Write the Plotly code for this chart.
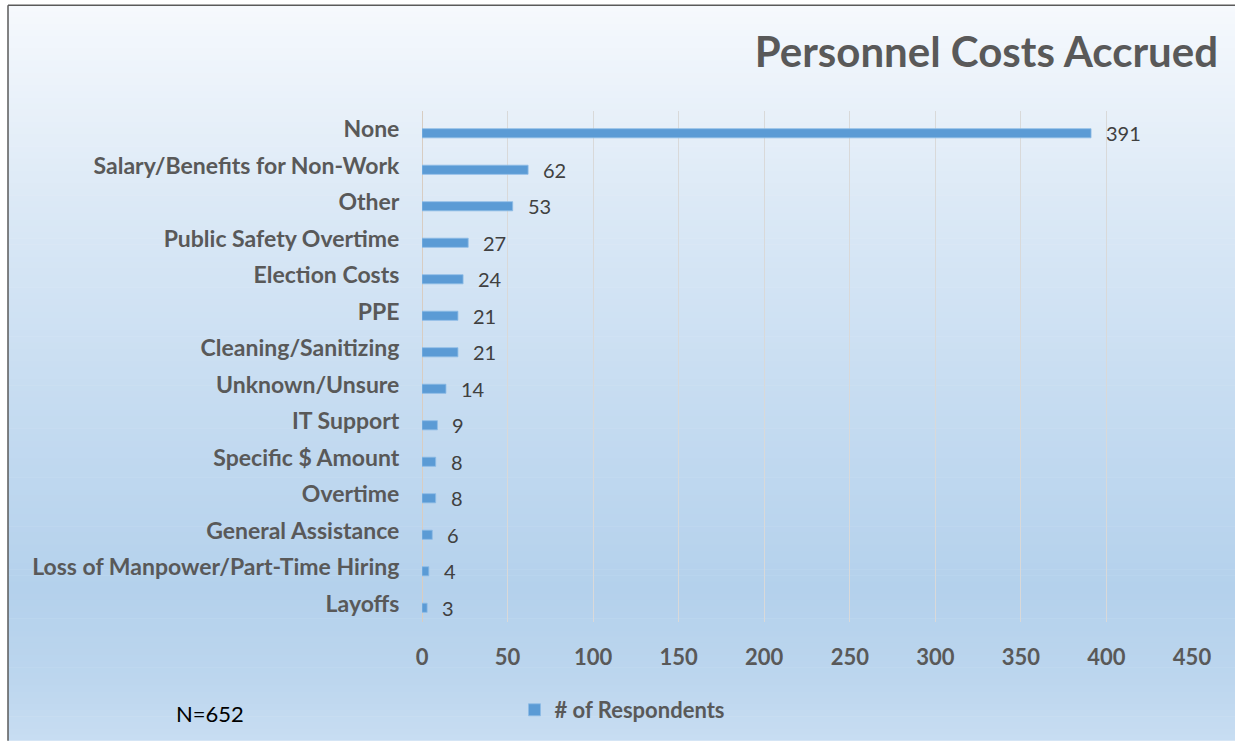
import plotly.graph_objects as go

categories = ["None", "Salary/Benefits for Non-Work", "Other", "Public Safety Overtime",
              "Election Costs", "PPE", "Cleaning/Sanitizing", "Unknown/Unsure", "IT Support",
              "Specific $ Amount", "Overtime", "General Assistance",
              "Loss of Manpower/Part-Time Hiring", "Layoffs"]
respondents = [391, 62, 53, 27, 24, 21, 21, 14, 9, 8, 8, 6, 4, 3]
x_ticks = [0, 50, 100, 150, 200, 250, 300, 350, 400, 450]
series_name = "# of Respondents"
title_text = "Personnel Costs Accrued"
note_text = "N=652"

W, H = 1235, 742
L, R, T, B = 422, 1192, 111, 623  # plot area in pixels

def px_to_paper_x(px):
    return (px - L) / (R - L)

def px_to_paper_y(py):
    return (B - py) / (B - T)

# background gradient stops (pixel y, rgb)
stops = [(5, (246, 249, 253)), (200, (220, 233, 246)), (400, (198, 220, 241)),
         (590, (180, 209, 236)), (680, (188, 214, 238)), (742, (200, 221, 242))]

def color_at(py):
    for (y0, c0), (y1, c1) in zip(stops[:-1], stops[1:]):
        if y0 <= py <= y1:
            t = (py - y0) / (y1 - y0)
            return "rgb(%d,%d,%d)" % tuple(round(a + (b - a) * t) for a, b in zip(c0, c1))
    return "rgb(%d,%d,%d)" % stops[-1][1]

shapes = []
n = 120
y_start, y_end = 5, 742
step = (y_end - y_start) / n
for i in range(n):
    ya = y_start + i * step
    yb = ya + step + 0.6
    shapes.append(dict(type="rect", xref="paper", yref="paper", layer="below",
                       x0=px_to_paper_x(8), x1=px_to_paper_x(W),
                       y0=px_to_paper_y(min(yb, H)), y1=px_to_paper_y(ya),
                       fillcolor=color_at(ya + step / 2), line=dict(width=0)))
# frame border (left and top)
shapes.append(dict(type="line", xref="paper", yref="paper", layer="below",
                   x0=px_to_paper_x(8), x1=px_to_paper_x(8),
                   y0=px_to_paper_y(H), y1=px_to_paper_y(5),
                   line=dict(color="#5a5a5a", width=1.5)))
shapes.append(dict(type="line", xref="paper", yref="paper", layer="below",
                   x0=px_to_paper_x(8), x1=px_to_paper_x(W),
                   y0=px_to_paper_y(5), y1=px_to_paper_y(5),
                   line=dict(color="#5a5a5a", width=1.5)))

fig = go.Figure()
fig.add_trace(go.Bar(
    x=respondents, y=categories, orientation="h", name=series_name,
    marker=dict(color="#5b9bd5", line=dict(color="#8dbbe6", width=0.8)),
    width=0.25, offset=-0.015,
    hoverinfo="x+y",
))

annotations = []
for c, v in zip(categories, respondents):
    annotations.append(dict(x=v, y=c, xref="x", yref="y", text=str(v), showarrow=False,
                            xanchor="left", yanchor="middle", xshift=13, yshift=-4,
                            font=dict(family="Lato", size=20, color="#404040")))
annotations.append(dict(x=px_to_paper_x(210), y=px_to_paper_y(715), xref="paper", yref="paper",
                        text=note_text, showarrow=False, xanchor="center", yanchor="middle",
                        font=dict(family="Lato", size=22, color="#000000")))

fig.update_layout(
    width=W, height=H,
    margin=dict(l=L, r=W - R, t=T, b=H - B, pad=0),
    paper_bgcolor="rgba(0,0,0,0)", plot_bgcolor="rgba(0,0,0,0)",
    shapes=shapes, annotations=annotations,
    title=dict(text="<b>" + title_text + "</b>", x=1218 / W, xanchor="right",
               xref="container", y=1 - 52 / H, yref="container", yanchor="middle",
               font=dict(family="Lato", size=42, color="#595959")),
    showlegend=True,
    legend=dict(orientation="h", x=px_to_paper_x(622), xanchor="center",
                y=px_to_paper_y(710), yanchor="middle", bgcolor="rgba(0,0,0,0)",
                font=dict(family="Lato", size=22, color="#595959", weight="bold"),
                itemwidth=30),
    xaxis=dict(range=[0, 450], tickvals=x_ticks, ticktext=[str(t) for t in x_ticks],
               showgrid=True, gridcolor="#d9d9d9", gridwidth=1.3,
               zeroline=True, zerolinecolor="#d8cdc2", zerolinewidth=1.3,
               showline=False, ticks="outside", ticklen=16, tickcolor="rgba(0,0,0,0)",
               tickfont=dict(family="Lato", size=22, color="#595959", weight="bold"),
               fixedrange=True),
    yaxis=dict(categoryorder="array", categoryarray=categories, autorange="reversed",
               showgrid=False, zeroline=False, showline=False,
               ticks="outside", ticklen=17, tickcolor="rgba(0,0,0,0)",
               tickfont=dict(family="Lato", size=23, color="#595959", weight="bold"),
               fixedrange=True),
    bargap=0.75,
)

fig.write_html("out.html", config={"displayModeBar": False},
               post_script="document.body.style.margin='0';"
                           "document.documentElement.style.overflow='hidden';"
                           "document.body.style.overflow='hidden';")
